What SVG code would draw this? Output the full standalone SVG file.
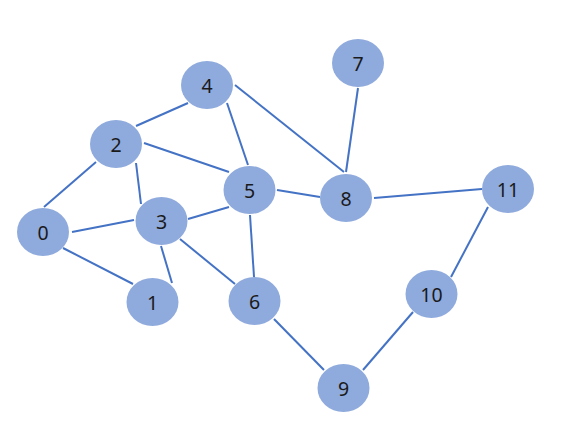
<svg xmlns="http://www.w3.org/2000/svg" width="564" height="434" viewBox="0 0 564 434">
<style>
.e{stroke:#4472C4;stroke-width:2;fill:none}
.n ellipse{fill:#8FAADC}
.n text{font-family:"Noto Sans","Liberation Sans",sans-serif;font-size:19.5px;fill:#1a1a1a;text-anchor:middle;dominant-baseline:central}
</style>
<rect width="564" height="434" fill="#fff"/>
<g id="edges" class="e">
<line x1="44" y1="207" x2="96" y2="162"/>
<line x1="72" y1="232" x2="134" y2="220"/>
<line x1="63" y1="248" x2="133" y2="284"/>
<line x1="136" y1="126" x2="188" y2="103"/>
<line x1="136" y1="163" x2="141" y2="204"/>
<line x1="144" y1="143" x2="229" y2="172"/>
<line x1="161" y1="246" x2="172" y2="283"/>
<line x1="188" y1="219" x2="229" y2="207"/>
<line x1="180" y1="239" x2="235" y2="284"/>
<line x1="227" y1="103" x2="248" y2="165"/>
<line x1="235" y1="85" x2="344" y2="172"/>
<line x1="277" y1="190" x2="320" y2="197"/>
<line x1="250" y1="215" x2="254" y2="277"/>
<line x1="358" y1="88" x2="346" y2="172"/>
<line x1="374" y1="198" x2="482" y2="189"/>
<line x1="488" y1="207" x2="451" y2="277"/>
<line x1="413" y1="312" x2="363" y2="370"/>
<line x1="274" y1="319" x2="324" y2="370"/>
</g>
<g id="node0" class="n"><ellipse cx="43" cy="232" rx="26" ry="24"/><text x="43" y="232">0</text></g>
<g id="node1" class="n"><ellipse cx="152.5" cy="302" rx="26" ry="24"/><text x="152.5" y="302">1</text></g>
<g id="node2" class="n"><ellipse cx="116" cy="144" rx="26" ry="24"/><text x="116" y="144">2</text></g>
<g id="node3" class="n"><ellipse cx="161.5" cy="221" rx="26" ry="24"/><text x="161.5" y="221">3</text></g>
<g id="node4" class="n"><ellipse cx="207" cy="85" rx="26" ry="24"/><text x="207" y="85">4</text></g>
<g id="node5" class="n"><ellipse cx="249.5" cy="190" rx="26" ry="24"/><text x="249.5" y="190">5</text></g>
<g id="node6" class="n"><ellipse cx="254.5" cy="301" rx="26" ry="24"/><text x="254.5" y="301">6</text></g>
<g id="node7" class="n"><ellipse cx="358" cy="63" rx="26" ry="24"/><text x="358" y="63">7</text></g>
<g id="node8" class="n"><ellipse cx="346" cy="198" rx="26" ry="24"/><text x="346" y="198">8</text></g>
<g id="node9" class="n"><ellipse cx="343.5" cy="388" rx="26" ry="24"/><text x="343.5" y="388">9</text></g>
<g id="node10" class="n"><ellipse cx="431.5" cy="294" rx="26" ry="24"/><text x="431.5" y="294">10</text></g>
<g id="node11" class="n"><ellipse cx="508" cy="189" rx="26" ry="24"/><text x="508" y="189">11</text></g>
</svg>
